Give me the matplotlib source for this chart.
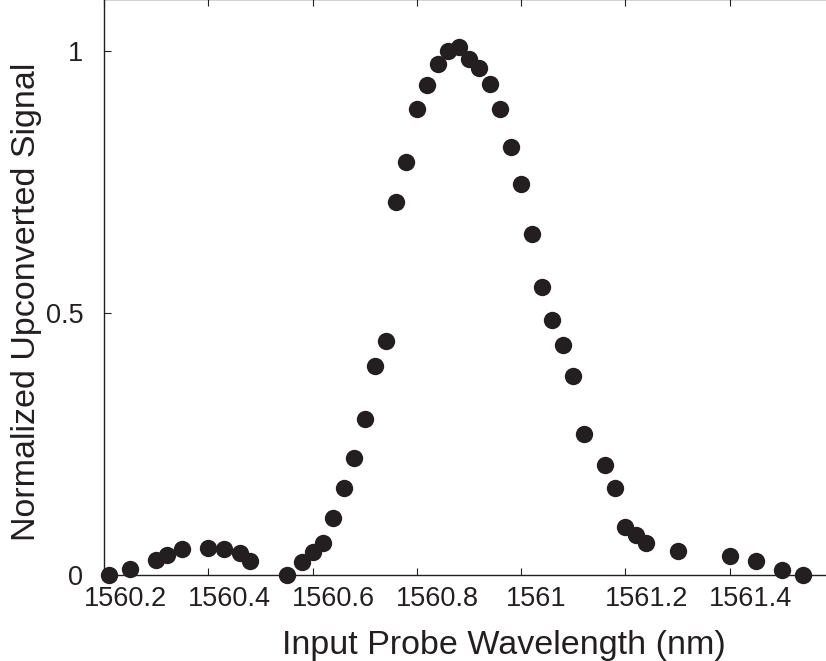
import matplotlib
matplotlib.use("Agg")
import matplotlib.pyplot as plt
from matplotlib.transforms import ScaledTranslation

plt.rcParams['font.family'] = ['Liberation Sans', 'DejaVu Sans']

# probe wavelength (nm) and normalized upconverted signal
wavelength = [1560.21, 1560.25, 1560.30, 1560.32, 1560.35, 1560.40, 1560.43, 1560.46, 1560.48,
              1560.55, 1560.58, 1560.60, 1560.62, 1560.64, 1560.66, 1560.68, 1560.70, 1560.72,
              1560.74, 1560.76, 1560.78, 1560.80, 1560.82, 1560.84, 1560.86, 1560.88, 1560.90,
              1560.92, 1560.94, 1560.96, 1560.98, 1561.00, 1561.02, 1561.04, 1561.06, 1561.08,
              1561.10, 1561.12, 1561.16, 1561.18, 1561.20, 1561.22, 1561.24, 1561.30, 1561.40,
              1561.45, 1561.50, 1561.54]
signal = [0.0, 0.011, 0.028, 0.038, 0.049, 0.051, 0.050, 0.042, 0.027,
          0.0, 0.024, 0.043, 0.062, 0.108, 0.167, 0.223, 0.298, 0.400,
          0.447, 0.712, 0.789, 0.890, 0.936, 0.976, 1.001, 1.008, 0.986,
          0.969, 0.938, 0.890, 0.817, 0.747, 0.651, 0.550, 0.487, 0.440,
          0.380, 0.270, 0.210, 0.167, 0.092, 0.076, 0.062, 0.046, 0.037,
          0.027, 0.010, 0.0]

xticks = [1560.2, 1560.4, 1560.6, 1560.8, 1561.0, 1561.2, 1561.4]
xtick_labels = ["1560.2", "1560.4", "1560.6", "1560.8", "1561", "1561.2", "1561.4"]
yticks = [0, 0.5, 1]
ytick_labels = ["0", "0.5", "1"]

W, H = 826, 661
fig = plt.figure(figsize=(W / 100, H / 100), dpi=100)
# axes run past the top and right edge of the picture, like the cropped original
ax = fig.add_axes([104 / W, (H - 575) / H, 730 / W, 576 / H])

ax.plot(wavelength, signal, 'o', color='#231f20', markersize=12.5,
        markeredgewidth=0, clip_on=False, zorder=5)

ax.set_xlim(1560.2, 1561.6)
ax.set_ylim(0, 1.1)
ax.set_xticks(xticks)
ax.set_xticklabels(xtick_labels)
ax.set_yticks(yticks)
ax.set_yticklabels(ytick_labels)

ax.tick_params(axis='x', direction='in', length=5, width=0.8, top=True,
               labelsize=19.5, pad=8, colors='#231f20')
ax.tick_params(axis='y', direction='in', length=5, width=0.8, right=True,
               labelsize=19.5, pad=15, colors='#231f20')
for s in ax.spines.values():
    s.set_linewidth(1.0)
    s.set_color('#231f20')

# the original tick labels sit a little right of their ticks
for lbl in ax.get_xticklabels():
    dx = 21 if len(lbl.get_text()) > 4 else 15
    lbl.set_transform(lbl.get_transform() + ScaledTranslation(dx / 100, 0, fig.dpi_scale_trans))

fig.text(504 / W, (H - 654) / H, "Input Probe Wavelength (nm)", fontsize=24.5,
         ha='center', va='baseline', color='#231f20')
fig.text(27 / W, (H - 302) / H, "Normalized Upconverted Signal", fontsize=24.5,
         rotation=90, ha='center', va='center', color='#231f20')

fig.savefig("out.png", dpi=100)
